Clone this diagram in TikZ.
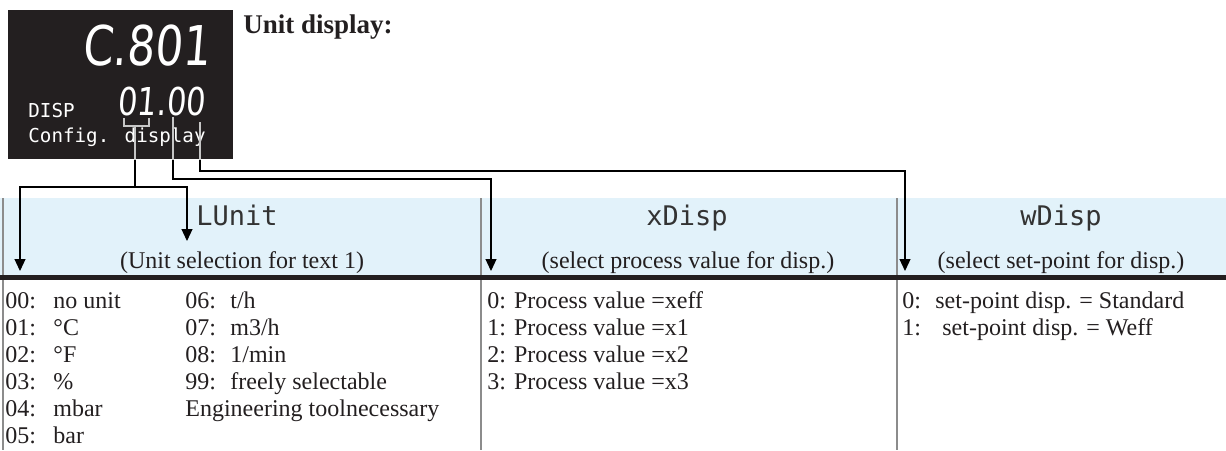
\documentclass[tikz,border=0pt]{standalone}
\usepackage{fontspec}
\setmainfont{Liberation Serif}
\newfontfamily\lcdfont{DejaVu Sans Mono}
\newfontfamily\segfont{DejaVu Sans}[FakeSlant=0.08,FakeStretch=0.8]
\usepackage{tikz}
\usetikzlibrary{arrows.meta, positioning, calc}
\usepackage{xcolor}
\definecolor{dispblack}{HTML}{231F20}
\definecolor{bandblue}{HTML}{E2F2FA}
\definecolor{headgray}{HTML}{333333}
\definecolor{rulegray}{HTML}{8C8C8C}

\tikzset{
  segbig/.style={font=\segfont\fontsize{27.4}{28}\selectfont, text=white, inner sep=0pt},
  segsmall/.style={font=\segfont\fontsize{19.2}{20}\selectfont, text=white, inner sep=0pt},
  lcd/.style={font=\lcdfont\fontsize{9.6}{10}\selectfont, text=white, inner sep=0pt, anchor=base west},
  head/.style={font=\lcdfont\fontsize{13.5}{14}\selectfont, text=headgray, inner sep=0pt, anchor=base},
  sub/.style={font=\fontsize{12}{13.5}\selectfont, text=dispblack, inner sep=0pt, anchor=base},
  entry/.style={font=\fontsize{12}{13.5}\selectfont, text=dispblack, inner sep=0pt, anchor=base west},
  tapline/.style={draw=gray!45, line width=0.6pt},
  link/.style={draw=black, line width=0.6pt},
  linkarrow/.style={link, -{Triangle[length=6pt,width=5.5pt]}},
  divider/.style={draw=rulegray, line width=1pt},
}

\begin{document}
\begin{tikzpicture}[x=0.5pt, y=-0.5pt]
  \useasboundingbox (0,0) rectangle (1226,450);

  % unit display
  \node[fill=dispblack, inner sep=0pt, minimum width=112.5pt, minimum height=74.5pt,
        anchor=north west] (disp) at (8,10) {};
  \node[segbig, anchor=base east] (bigval) at (211,65) {C.801};
  \node[segsmall, anchor=base west] (smallval) at (117,115) {01.00};
  \node[lcd] (disptag) at (28,117) {DISP};
  \node[lcd] (dispcap) at (28,142) {Config. display};
  \node[font=\bfseries\fontsize{13.5}{15}\selectfont, text=dispblack, inner sep=0pt,
        anchor=base west] (title) at (243,33) {Unit display:};

  % header band
  \fill[bandblue] (0,198) rectangle (1226,275);
  \foreach \x in {3,481,897}
    \draw[divider] (\x,198) -- (\x,450);
  \draw[dispblack, line width=2.5pt] (0,277.5) -- (1226,277.5);

  \node[head] (lunit) at (237,225) {LUnit};
  \node[sub] (lunitsub) at (242,268) {(Unit selection for text 1)};
  \node[head] (xdisp) at (687,225) {xDisp};
  \node[sub] (xdispsub) at (688,268) {(select process value for disp.)};
  \node[head] (wdisp) at (1061,225) {wDisp};
  \node[sub] (wdispsub) at (1061,268) {(select set-point for disp.)};

  % value lists
  \foreach \n/\t [count=\i from 0] in {00/no unit, 01/°C, 02/°F, 03/\%, 04/mbar, 05/bar}
    \node[entry] (ua\i) at (5,308+27*\i) {\makebox[24pt][l]{\n:}\t};
  \foreach \n/\t [count=\i from 0] in {06/{t/h}, 07/{m3/h}, 08/{1/min}, 99/freely selectable}
    \node[entry] (ub\i) at (185,308+27*\i) {\makebox[22.5pt][l]{\n:}\t};
  \node[entry] (ubnote) at (185,416) {Engineering toolnecessary};
  \foreach \i in {0,...,3}
    \node[entry] (xv\i) at (487,308+27*\i) {\i: Process value =x\ifnum\i=0 eff\else\i\fi};
  \node[entry] (wv0) at (902,308) {\makebox[16.5pt][l]{0:}set-point disp. = Standard};
  \node[entry] (wv1) at (902,335) {\makebox[16.5pt][l]{1:}\hspace{3.5pt}set-point disp. = Weff};

  % connectors
  \coordinate (brL) at (124,118);
  \coordinate (brR) at (149,118);
  \coordinate (tapU) at (135,126);
  \coordinate (busU) at (135,187);
  \coordinate (tipL) at (20,271);
  \coordinate (tipU) at (187,241);
  \coordinate (tapX) at (173,117);
  \coordinate (kneeX) at (491,179);
  \coordinate (tipX) at (491,271);
  \coordinate (tapW) at (200,122);
  \coordinate (kneeW) at (905,171);
  \coordinate (tipW) at (905,271);

  \draw[tapline] (brL) -- ++(0,8) -| (brR);
  \draw[tapline] (tapU) -- (tapU |- disp.south);
  \draw[tapline] (tapX) -- (tapX |- disp.south);
  \draw[tapline] (tapW) -- (tapW |- disp.south);

  \draw[link] (tapU |- disp.south) -- (busU);
  \draw[linkarrow] (busU) -| (tipL);
  \draw[linkarrow] (busU) -| (tipU);
  \draw[linkarrow] (tapX |- disp.south) |- (kneeX) -- (tipX);
  \draw[linkarrow] (tapW |- disp.south) |- (kneeW) -- (tipW);
\end{tikzpicture}
\end{document}
